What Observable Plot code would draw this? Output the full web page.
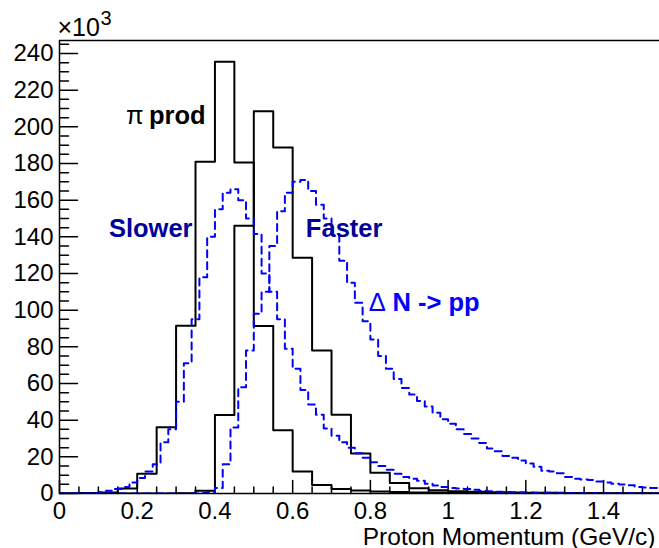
<!DOCTYPE html>
<html><head><meta charset="utf-8">
<script src="https://cdn.jsdelivr.net/npm/d3@7"></script>
<script src="https://cdn.jsdelivr.net/npm/@observablehq/plot@0.6"></script>
<style>body{margin:0;background:#fff;} svg{display:block;}</style>
</head><body><div id="chart"></div>
<script>
// Bin widths (GeV/c)
const coarseBin = 0.05;
const fineBin = 0.02;

// pi production, slower proton (x10^3 counts), 0.05 GeV/c bins from 0
const slowerPion = [0, 0.3, 0.6, 2.7, 10.8, 36.2, 91.5, 181, 235.5, 180.6, 91.4, 34.5, 12, 4.7, 2.5, 1.6,
  1.1, 0.8, 0.6, 0.5, 0.4, 0.3, 0.25, 0.2, 0.15, 0.12, 0.1, 0.08, 0.06, 0.05, 0.04];
// pi production, faster proton
const fasterPion = [0, 0, 0, 0, 0, 0, 0.2, 1.5, 42.8, 146, 208.5, 188.8, 128.6, 78, 43, 21.8,
  11.3, 5.7, 2.9, 1.8, 1.2, 0.9, 0.7, 0.55, 0.45, 0.35, 0.3, 0.25, 0.2, 0.15, 0.12];
// Delta N -> pp, slower proton, 0.02 GeV/c bins from 0
const slowerDelta = [0, 0, 0, 0.1, 0.3, 0.7, 1.5, 2.5, 3.5, 6, 8.5, 12, 16, 28, 35, 50, 71, 95, 118, 140,
  155, 164, 166, 160, 150, 141.5, 120, 110, 95, 79, 68, 56.5, 48.5, 43, 35.5, 31.5, 28, 25, 22, 19.5,
  17, 15, 13, 10.8, 9, 8, 7, 5.3, 4.4, 3.6, 3, 2.7, 2.4, 2, 1.5, 1.2, 1, 0.8, 0.7, 0.6,
  0.5, 0.45, 0.4, 0.35, 0.3, 0.3, 0.25, 0.2, 0.2, 0.15, 0.15, 0.1, 0.1, 0.1, 0.1, 0.05, 0.05, 0.05];
// Delta N -> pp, faster proton
const fasterDelta = [0, 0, 0, 0, 0, 0, 0, 0, 0, 0, 0, 0, 0, 0, 0, 0, 0, 0, 0.3, 0.8,
  3, 16, 36, 58, 78, 98, 110, 135, 154, 164, 170, 171, 165, 157.5, 150, 141, 127, 115, 104, 94,
  84, 75, 68, 62.5, 57.5, 54, 50.5, 47.5, 44, 40.5, 38, 35, 32.5, 30, 27.5, 24.5, 23, 20.5, 19.5, 18,
  16.3, 14.6, 12.4, 12, 11, 9, 8, 7.6, 7.3, 6.5, 6, 5.3, 4.9, 4.5, 3.6, 3.3, 3, 2.8];

// Axes
const xMax = 1.544;
const yMax = 247.1;
const xTicks = [0, 0.2, 0.4, 0.6, 0.8, 1, 1.2, 1.4];
const xTickLabels = ["0", "0.2", "0.4", "0.6", "0.8", "1", "1.2", "1.4"];
const yTicks = [0, 20, 40, 60, 80, 100, 120, 140, 160, 180, 200, 220, 240];
const yTickLabels = ["0", "20", "40", "60", "80", "100", "120", "140", "160", "180", "200", "220", "240"];
const xMinorTicks = [0.05, 0.1, 0.15, 0.25, 0.3, 0.35, 0.45, 0.5, 0.55, 0.65, 0.7, 0.75,
  0.85, 0.9, 0.95, 1.05, 1.1, 1.15, 1.25, 1.3, 1.35, 1.45, 1.5];
const yMinorTicks = [5, 10, 15, 25, 30, 35, 45, 50, 55, 65, 70, 75, 85, 90, 95,
  105, 110, 115, 125, 130, 135, 145, 150, 155, 165, 170, 175, 185, 190, 195,
  205, 210, 215, 225, 230, 235, 245];
const xTitle = "Proton Momentum (GeV/c)";
const yScaleNote = "×10";
const yScaleExp = "3";

// Annotations
const labelTexts = ["π", "prod", "Slower", "Faster", "Δ", "N -> pp"];
const labelX = [0.171, 0.230, 0.1272, 0.634, 0.7956, 0.857];
const labelY = [206, 206, 144.5, 144.5, 103.8, 103.8];
const labelColors = ["#000000", "#000000", "#000099", "#000099", "#0000ff", "#0000ff"];
const labelBold = [false, true, true, true, false, true];

function steps(values, width) {
  const pts = values.map((v, i) => ({x: i * width, y: v}));
  pts.push({x: values.length * width, y: values[values.length - 1]});
  return pts;
}
const labels = labelTexts.map((t, i) => ({t, x: labelX[i], y: labelY[i], c: labelColors[i], b: labelBold[i]}));
const xLab = new Map(xTicks.map((d, i) => [d, xTickLabels[i]]));
const yLab = new Map(yTicks.map((d, i) => [d, yTickLabels[i]]));

const W = 659, H = 548, mL = 59, mR = 0, mT = 40, mB = 55;
const frameW = W - mL - mR, frameH = H - mT - mB;
const xPerPx = xMax / frameW, yPerPx = yMax / frameH;
// tick segments as two-point polylines (pixel lengths converted to data units)
const tickSegs = [];
yTicks.forEach((v, i) => { tickSegs.push({id: "ym" + i, x: 0, y: v}, {id: "ym" + i, x: 18 * xPerPx, y: v}); });
yMinorTicks.forEach((v, i) => { tickSegs.push({id: "yn" + i, x: 0, y: v}, {id: "yn" + i, x: 9 * xPerPx, y: v}); });
xTicks.forEach((v, i) => { tickSegs.push({id: "xm" + i, x: v, y: 0}, {id: "xm" + i, x: v, y: 13 * yPerPx}); });
xMinorTicks.forEach((v, i) => { tickSegs.push({id: "xn" + i, x: v, y: 0}, {id: "xn" + i, x: v, y: 6.5 * yPerPx}); });

const font = "'Liberation Sans', Arial, Helvetica, sans-serif";
const black = {x: "x", y: "y", curve: "step-after", stroke: "#000", strokeWidth: 2, clip: true};
const blue = {x: "x", y: "y", curve: "step-after", stroke: "#0000ff", strokeWidth: 2, strokeDasharray: "7,5", clip: true};

const chart = Plot.plot({
  width: W, height: H,
  marginLeft: mL, marginRight: mR, marginTop: mT, marginBottom: mB,
  x: {domain: [0, xMax]},
  y: {domain: [0, yMax]},
  color: {type: "identity"},
  style: {fontFamily: font, fontSize: "24px", color: "#000", background: "#fff"},
  marks: [
    Plot.line(tickSegs, {x: "x", y: "y", z: "id", stroke: "#000", strokeWidth: 1.5}),
    Plot.line(steps(slowerPion, coarseBin), black),
    Plot.line(steps(fasterPion, coarseBin), black),
    Plot.line(steps(slowerDelta, fineBin), blue),
    Plot.line(steps(fasterDelta, fineBin), blue),
    Plot.ruleX([0], {stroke: "#000", strokeWidth: 1.5}),
    Plot.ruleY([0], {stroke: "#000", strokeWidth: 1.5}),
    Plot.ruleY([yMax], {stroke: "#000", strokeWidth: 1.5}),
    Plot.axisY({ticks: yTicks, tickSize: 0, tickPadding: 6, tickFormat: d => yLab.get(d), label: null, fontSize: 24}),
    Plot.axisX({ticks: xTicks, tickSize: 0, tickPadding: 8, tickFormat: d => xLab.get(d), label: null, fontSize: 24}),
    Plot.text([xTitle], {text: d => d, frameAnchor: "bottom-right", textAnchor: "end", lineAnchor: "middle", dx: -4, dy: 44, fontSize: 24.5}),
    Plot.text([yScaleNote], {text: d => d, frameAnchor: "top-left", textAnchor: "start", lineAnchor: "middle", dx: -2, dy: -13, fontSize: 25}),
    Plot.text([yScaleExp], {text: d => d, frameAnchor: "top-left", textAnchor: "start", lineAnchor: "middle", dx: 41, dy: -21.5, fontSize: 20}),
    Plot.text(labels.filter(d => !d.b), {x: "x", y: "y", text: "t", fill: "c", textAnchor: "start", fontSize: 25.5}),
    Plot.text(labels.filter(d => d.b), {x: "x", y: "y", text: "t", fill: "c", textAnchor: "start", fontSize: 25.5, fontWeight: "bold"})
  ]
});
document.getElementById("chart").append(chart);
</script>
</body></html>
